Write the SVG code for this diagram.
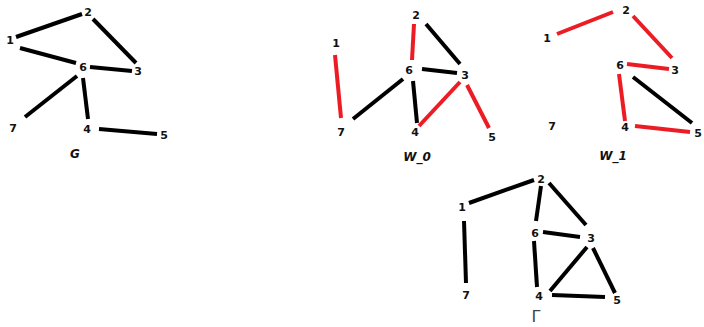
<svg xmlns="http://www.w3.org/2000/svg" width="704" height="327" viewBox="0 0 704 327">
<style>
.e{stroke:#000;stroke-width:4;stroke-linecap:butt;fill:none}
.r{stroke:#ec1c24;stroke-width:4;stroke-linecap:butt;fill:none}
text{font-family:"DejaVu Sans","Liberation Sans",sans-serif;font-weight:bold;font-size:11px;fill:#111;text-anchor:middle}
.t{font-style:italic;font-size:12px}
.gm{font-weight:normal;font-size:16px;fill:#444}
</style>
<rect width="704" height="327" fill="#fff"/>
<g id="connectors">
<!-- G -->
<line class="e" x1="16" y1="37" x2="82" y2="14"/>
<line class="e" x1="93" y1="19" x2="136" y2="63"/>
<line class="e" x1="20" y1="48" x2="76" y2="63"/>
<line class="e" x1="90" y1="67" x2="132" y2="71"/>
<line class="e" x1="77" y1="76" x2="25" y2="117"/>
<line class="e" x1="83" y1="78" x2="88" y2="119"/>
<line class="e" x1="99" y1="129" x2="157" y2="134"/>
<!-- W_0 -->
<line class="r" x1="335" y1="55" x2="341" y2="118"/>
<line class="r" x1="414" y1="24" x2="412" y2="60"/>
<line class="e" x1="426" y1="24" x2="460" y2="64"/>
<line class="e" x1="422" y1="69" x2="457" y2="73"/>
<line class="e" x1="403" y1="79" x2="353" y2="119"/>
<line class="e" x1="413" y1="81" x2="417" y2="123"/>
<line class="r" x1="419" y1="126" x2="460" y2="82"/>
<line class="r" x1="467" y1="85" x2="489" y2="128"/>
<!-- W_1 -->
<line class="r" x1="557" y1="34" x2="613" y2="12"/>
<line class="r" x1="633" y1="16" x2="672" y2="58"/>
<line class="r" x1="627" y1="64" x2="669" y2="69"/>
<line class="r" x1="619" y1="74" x2="625" y2="121"/>
<line class="e" x1="633" y1="77" x2="692" y2="123"/>
<line class="r" x1="635" y1="126" x2="690" y2="132"/>
<!-- Gamma -->
<line class="e" x1="469" y1="203" x2="534" y2="180"/>
<line class="e" x1="541" y1="186" x2="536" y2="221"/>
<line class="e" x1="549" y1="183" x2="586" y2="225"/>
<line class="e" x1="543" y1="232" x2="580" y2="237"/>
<line class="e" x1="464" y1="221" x2="466" y2="283"/>
<line class="e" x1="534" y1="241" x2="537" y2="287"/>
<line class="e" x1="587" y1="247" x2="550" y2="291"/>
<line class="e" x1="593" y1="248" x2="615" y2="293"/>
<line class="e" x1="552" y1="295" x2="605" y2="297"/>
</g>
<g id="G">
<text x="88" y="16">2</text><text x="10" y="44">1</text><text x="83" y="71">6</text>
<text x="138" y="75">3</text><text x="13" y="132">7</text><text x="87" y="133">4</text>
<text x="164" y="139">5</text><text class="t" x="75" y="158">G</text>
</g>
<g id="W_0">
<text x="416" y="19">2</text><text x="336" y="47">1</text><text x="409" y="74">6</text>
<text x="465" y="79">3</text><text x="341" y="136">7</text><text x="415" y="136">4</text>
<text x="492" y="141">5</text><text class="t" x="417" y="161">W_0</text>
</g>
<g id="W_1">
<text x="626" y="14">2</text><text x="547" y="42">1</text><text x="620" y="69">6</text>
<text x="675" y="74">3</text><text x="552" y="130">7</text><text x="625" y="131">4</text>
<text x="698" y="137">5</text><text class="t" x="613" y="160">W_1</text>
</g>
<g id="Gamma">
<text x="541" y="183">2</text><text x="462" y="211">1</text><text x="535" y="237">6</text>
<text x="591" y="242">3</text><text x="466" y="299">7</text><text x="539" y="300">4</text>
<text x="617" y="304">5</text><text class="gm" x="536" y="322">Γ</text>
</g>
</svg>
